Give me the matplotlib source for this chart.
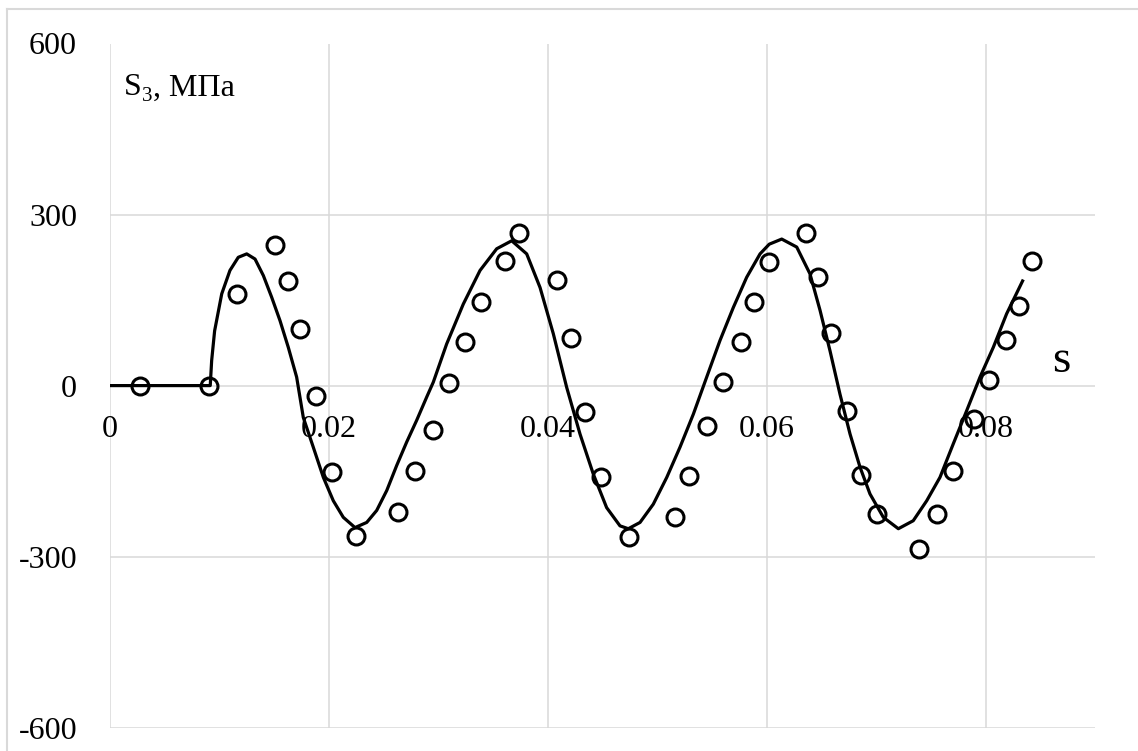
import matplotlib
matplotlib.use("Agg")
import matplotlib.pyplot as plt
from matplotlib.lines import Line2D

plt.rcParams["font.family"] = ["Liberation Serif", "DejaVu Serif"]

# Calculated stress S3 (MPa) versus time (s)
calc_t = [0.0, 0.0092, 0.00933, 0.0096, 0.01025, 0.0110, 0.01176, 0.01253, 0.01329,
          0.01405, 0.01481, 0.01557, 0.01633, 0.01709, 0.0177, 0.01861, 0.01953,
          0.02044, 0.02135, 0.02242, 0.02349, 0.0244, 0.02532, 0.02623, 0.02714,
          0.02805, 0.02897, 0.02957, 0.03079, 0.03231, 0.03384, 0.03536, 0.03673,
          0.0381, 0.03932, 0.04053, 0.04175, 0.04297, 0.04418, 0.0454, 0.04662,
          0.04738, 0.04845, 0.04966, 0.05089, 0.0521, 0.05332, 0.05454, 0.05575,
          0.05697, 0.05819, 0.05941, 0.06025, 0.06139, 0.06276, 0.06397, 0.06489,
          0.0658, 0.06671, 0.06763, 0.06854, 0.06945, 0.07067, 0.07204, 0.0734,
          0.07463, 0.07584, 0.07706, 0.07828, 0.0795, 0.08071, 0.08193, 0.08345]
calc_s3 = [0, 0, 44, 96, 161, 202, 225, 231, 222,
           193, 155, 114, 67, 15, -56, -108, -161,
           -202, -231, -249, -240, -219, -184, -140, -99,
           -61, -20, 6, 73, 143, 202, 240, 254,
           231, 172, 91, -3, -85, -155, -214, -246,
           -251, -240, -208, -161, -108, -50, 15, 79,
           137, 190, 231, 248, 257, 243, 196, 132,
           61, -15, -85, -143, -190, -231, -251, -237,
           -202, -161, -102, -44, 15, 67, 126, 186]

# Measured stress S3 (MPa) versus time (s)
meas_t = [0.00279, 0.00912, 0.01162, 0.01511, 0.01633, 0.0174, 0.01886, 0.0203,
          0.02251, 0.02632, 0.0279, 0.02957, 0.0310, 0.03247, 0.03393, 0.03615,
          0.03743, 0.04087, 0.04215, 0.04342, 0.04492, 0.04747, 0.05164, 0.05295,
          0.05454, 0.05605, 0.05767, 0.05889, 0.06023, 0.06358, 0.06473, 0.06589,
          0.06732, 0.0686, 0.07012, 0.07393, 0.07555, 0.07701, 0.07898, 0.08035,
          0.08187, 0.08309, 0.08422]
meas_s3 = [0, 0, 160, 247, 184, 99, -19, -151,
           -263, -222, -150, -77, 5, 76, 147, 218,
           268, 185, 83, -47, -160, -265, -231, -158,
           -70, 6, 76, 147, 216, 268, 191, 92,
           -45, -157, -225, -286, -225, -150, -58, 10,
           80, 140, 219]

x_ticks = [0, 0.02, 0.04, 0.06, 0.08]
x_tick_labels = ["0", "0.02", "0.04", "0.06", "0.08"]
y_ticks = [-600, -300, 0, 300, 600]
y_tick_labels = ["-600", "-300", "0", "300", "600"]

W, H = 1138, 751
fig = plt.figure(figsize=(W / 100, H / 100), dpi=100)
fig.patch.set_facecolor("white")

# chart frame (left and top edges)
frame_kw = dict(color="#d9d9d9", lw=1.5, transform=fig.transFigure)
fig.add_artist(Line2D([7 / W, 7 / W], [0, 1 - 9 / H], **frame_kw))
fig.add_artist(Line2D([7 / W, 1], [1 - 9 / H, 1 - 9 / H], **frame_kw))

ax = fig.add_axes([109.5 / W, 23.3 / H, 985.5 / W, 684.2 / H])
ax.set_xlim(0, 0.09)
ax.set_ylim(-600, 600)

for s in ax.spines.values():
    s.set_visible(False)

grid_c = "#d9d9d9"
for xv in x_ticks:
    ax.axvline(xv, color=grid_c, lw=1.1, zorder=0)
for yv in y_ticks:
    ax.axhline(yv, color=grid_c, lw=1.1, zorder=0)

ax.set_xticks([])
ax.set_yticks(y_ticks)
ax.set_yticklabels(y_tick_labels, fontsize=23)
ax.tick_params(axis="y", length=0, pad=23.4)

# time labels sit just under the zero line
for xv, lab in zip(x_ticks, x_tick_labels):
    ax.text(xv, -91, lab, fontsize=23, ha="center", va="baseline", zorder=1)

ax.plot(calc_t, calc_s3, color="black", lw=2.3, solid_capstyle="butt",
        solid_joinstyle="round", zorder=3)
ax.plot(meas_t, meas_s3, linestyle="none", marker="o", ms=12.2,
        markerfacecolor="none", markeredgecolor="black", markeredgewidth=2.2,
        zorder=4)

# axis captions: stress S3 in MPa, time in s
ax.text(0.00131, 509, "S", fontsize=23, ha="left", va="baseline", zorder=5)
ax.text(0.00296, 500, "3", fontsize=15, ha="left", va="baseline", zorder=5)
ax.text(0.00397, 509, ", МПа", fontsize=23, ha="left", va="baseline", zorder=5)
ax.text(0.0861, 23, "s", fontsize=34, ha="left", va="baseline", zorder=5)

fig.savefig("out.png", dpi=100, facecolor="white")
